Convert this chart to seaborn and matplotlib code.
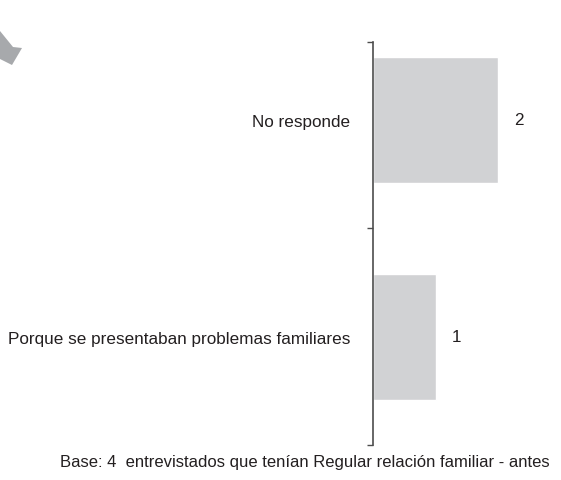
import matplotlib
matplotlib.use("Agg")
import matplotlib.pyplot as plt
import matplotlib.patches as mpatches
import seaborn as sns
import pandas as pd

# Data
categories = ["No responde", "Porque se presentaban problemas familiares"]
values = [2, 1]
footer = "Base: 4  entrevistados que tenían Regular relación familiar - antes"

df = pd.DataFrame({"categoria": categories, "valor": values})

sns.set_style("white")
plt.rcParams['font.family'] = ['Liberation Sans Narrow', 'Liberation Sans', 'DejaVu Sans']

W, H = 561, 481
fig = plt.figure(figsize=(W / 100, H / 100), dpi=100)
# axes: left edge at x=373px, top at y=43px, bottom at y=446px
ax = fig.add_axes([373 / W, 1 - 446 / H, (W - 373) / W, (446 - 43) / H])

sns.barplot(data=df, y="categoria", x="valor", orient="h", color="#d1d2d4",
            width=0.58, saturation=1, ax=ax)

ax.set_xlim(0, 3)
ax.set_ylim(1.498, -0.359)
ax.set_xlabel("")
ax.set_ylabel("")
ax.set_xticks([])

for s in ["top", "right", "bottom"]:
    ax.spines[s].set_visible(False)
ax.spines["left"].set_color("#4d4d4d")
ax.spines["left"].set_linewidth(1.2)

# labels without tick marks, boundary ticks as minor ticks
ax.tick_params(axis="y", which="major", left=True, length=0, pad=16.5,
               labelsize=12.3, labelcolor="#231f20")
ax.set_yticks([-0.359, 0.5, 1.498], minor=True)
ax.tick_params(axis="y", which="minor", left=True, length=4, width=1.0, color="#4d4d4d")

# value labels
for i, v in enumerate(values):
    ax.text(v + 0.33, i, str(v), va="center", ha="center", fontsize=12.3, color="#231f20")

# decorative arrow at top-left
arrow = mpatches.Polygon(
    [(0 / W, 1 - 32 / H), (13 / W, 1 - 48 / H), (22 / W, 1 - 49 / H),
     (12 / W, 1 - 66 / H), (0 / W, 1 - 60 / H)],
    closed=True, transform=fig.transFigure, color="#a7a9ac", lw=0)
fig.patches.append(arrow)

fig.text(305 / W, 1 - 462 / H, footer, ha="center", va="center", fontsize=12, color="#231f20")

fig.savefig("out.png", dpi=100)
